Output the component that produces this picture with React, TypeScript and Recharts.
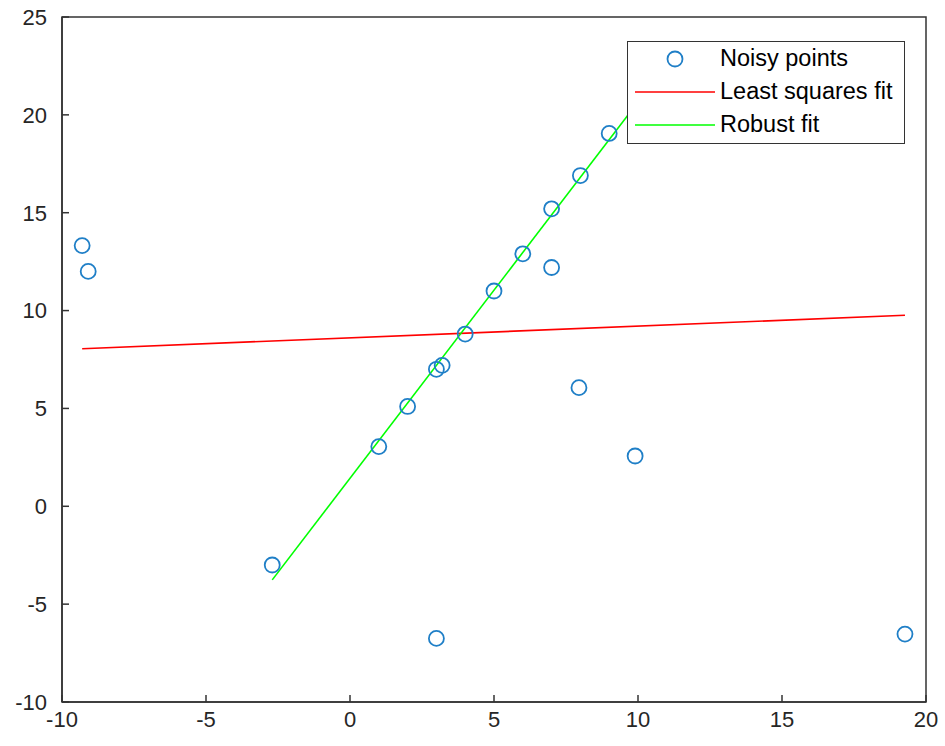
import {
  ComposedChart,
  Legend,
  Line,
  ReferenceArea,
  Scatter,
  XAxis,
  YAxis,
} from 'recharts';

// noisy samples
const noisyX = [-9.3, -9.09, -2.7, 1, 2, 3, 3.2, 3, 4, 5, 6, 7, 7, 8, 7.95, 9, 9.9, 19.27];
const noisyY = [13.32, 12.0, -3.0, 3.05, 5.1, 7.0, 7.2, -6.75, 8.8, 11.0, 12.9, 15.2, 12.2, 16.9, 6.06, 19.05, 2.57, -6.53];

// fitted lines (end points)
const lsqX = [-9.3, 19.27];
const lsqY = [8.05, 9.76];
const robustX = [-2.7, 10];
const robustY = [-3.76, 20.66];

const xTicks = [-10, -5, 0, 5, 10, 15, 20];
const yTicks = [-10, -5, 0, 5, 10, 15, 20, 25];

const legendLabels = ['Noisy points', 'Least squares fit', 'Robust fit'];

const points = noisyX.map((x, i) => ({ x, y: noisyY[i] }));
const lsqLine = lsqX.map((x, i) => ({ x, y: lsqY[i] }));
const robustLine = robustX.map((x, i) => ({ x, y: robustY[i] }));

const FONT = '"Liberation Sans", Arial, Helvetica, sans-serif';
const AXIS = '#333333';
const BLUE = '#1f7fc7';

const tickStyle = { fill: '#262626', fontSize: 22, fontFamily: FONT };
const axisLine = { stroke: AXIS, strokeWidth: 1.5 };
const tickLine = { stroke: AXIS, strokeWidth: 1.5 };

const OpenCircle = (props: any) => {
  const { cx, cy } = props;
  if (cx == null || cy == null) return <g />;
  return (
    <circle cx={cx} cy={cy} r={7.5} fill="none" stroke={BLUE} strokeWidth={1.8} />
  );
};

// only here so the top / right axes get a domain and draw their ticks
const Nothing = () => <g />;

const LegendBox = () => (
  <div
    style={{
      width: 278,
      height: 103,
      boxSizing: 'border-box',
      background: '#fff',
      border: `1.5px solid ${AXIS}`,
      fontFamily: FONT,
      fontSize: 23.5,
      color: '#000',
    }}
  >
    {legendLabels.map((label, i) => (
      <div key={label} style={{ display: 'flex', alignItems: 'center', height: 33 }}>
        <svg width={92} height={33} style={{ flex: 'none' }}>
          {i === 0 ? (
            <circle cx={47} cy={17} r={7.5} fill="none" stroke={BLUE} strokeWidth={1.8} />
          ) : (
            <line
              x1={7}
              x2={87}
              y1={17}
              y2={17}
              stroke={i === 1 ? '#ff0000' : '#00ff00'}
              strokeWidth={1.6}
            />
          )}
        </svg>
        <span style={{ lineHeight: '33px', whiteSpace: 'nowrap' }}>{label}</span>
      </div>
    ))}
  </div>
);

export default function App() {
  return (
    <div style={{ position: 'absolute', left: 0, top: 0, background: '#fff' }}>
      <ComposedChart
        width={945}
        height={746}
        margin={{ top: 17, right: 19, bottom: 0, left: 0 }}
      >
        <XAxis
          dataKey="x"
          type="number"
          domain={[-10, 20]}
          ticks={xTicks}
          interval={0}
          allowDataOverflow
          height={44}
          tickSize={-7}
          tickMargin={16}
          tick={tickStyle}
          axisLine={axisLine}
          tickLine={tickLine}
        />
        <XAxis
          xAxisId="top"
          orientation="top"
          dataKey="x"
          type="number"
          domain={[-10, 20]}
          ticks={xTicks}
          interval={0}
          allowDataOverflow
          height={0}
          tickSize={-7}
          tickFormatter={() => ''}
          axisLine={axisLine}
          tickLine={tickLine}
        />
        <YAxis
          dataKey="y"
          type="number"
          domain={[-10, 25]}
          ticks={yTicks}
          interval={0}
          allowDataOverflow
          width={62}
          tickSize={-7}
          tickMargin={22}
          tick={tickStyle}
          axisLine={axisLine}
          tickLine={tickLine}
        />
        <YAxis
          yAxisId="right"
          orientation="right"
          dataKey="y"
          type="number"
          domain={[-10, 25]}
          ticks={yTicks}
          interval={0}
          allowDataOverflow
          width={0}
          tickSize={-7}
          tickFormatter={() => ''}
          axisLine={axisLine}
          tickLine={tickLine}
        />
        <ReferenceArea
          x1={-10}
          x2={20}
          y1={-10}
          y2={25}
          fill="none"
          stroke={AXIS}
          strokeWidth={1.5}
          fillOpacity={0}
          ifOverflow="visible"
        />
        <Scatter
          xAxisId="top"
          yAxisId="right"
          data={points}
          dataKey="y"
          shape={Nothing}
          legendType="none"
          isAnimationActive={false}
        />
        <Line
          data={lsqLine}
          dataKey="y"
          type="linear"
          stroke="#ff0000"
          strokeWidth={1.6}
          dot={false}
          activeDot={false}
          isAnimationActive={false}
        />
        <Line
          data={robustLine}
          dataKey="y"
          type="linear"
          stroke="#00ff00"
          strokeWidth={1.6}
          dot={false}
          activeDot={false}
          isAnimationActive={false}
        />
        <Scatter
          data={points}
          dataKey="y"
          shape={OpenCircle}
          isAnimationActive={false}
        />
        <Legend
          layout="vertical"
          align="center"
          verticalAlign="middle"
          wrapperStyle={{ left: 627, top: 41, width: 278 }}
          content={() => <LegendBox />}
        />
      </ComposedChart>
    </div>
  );
}
